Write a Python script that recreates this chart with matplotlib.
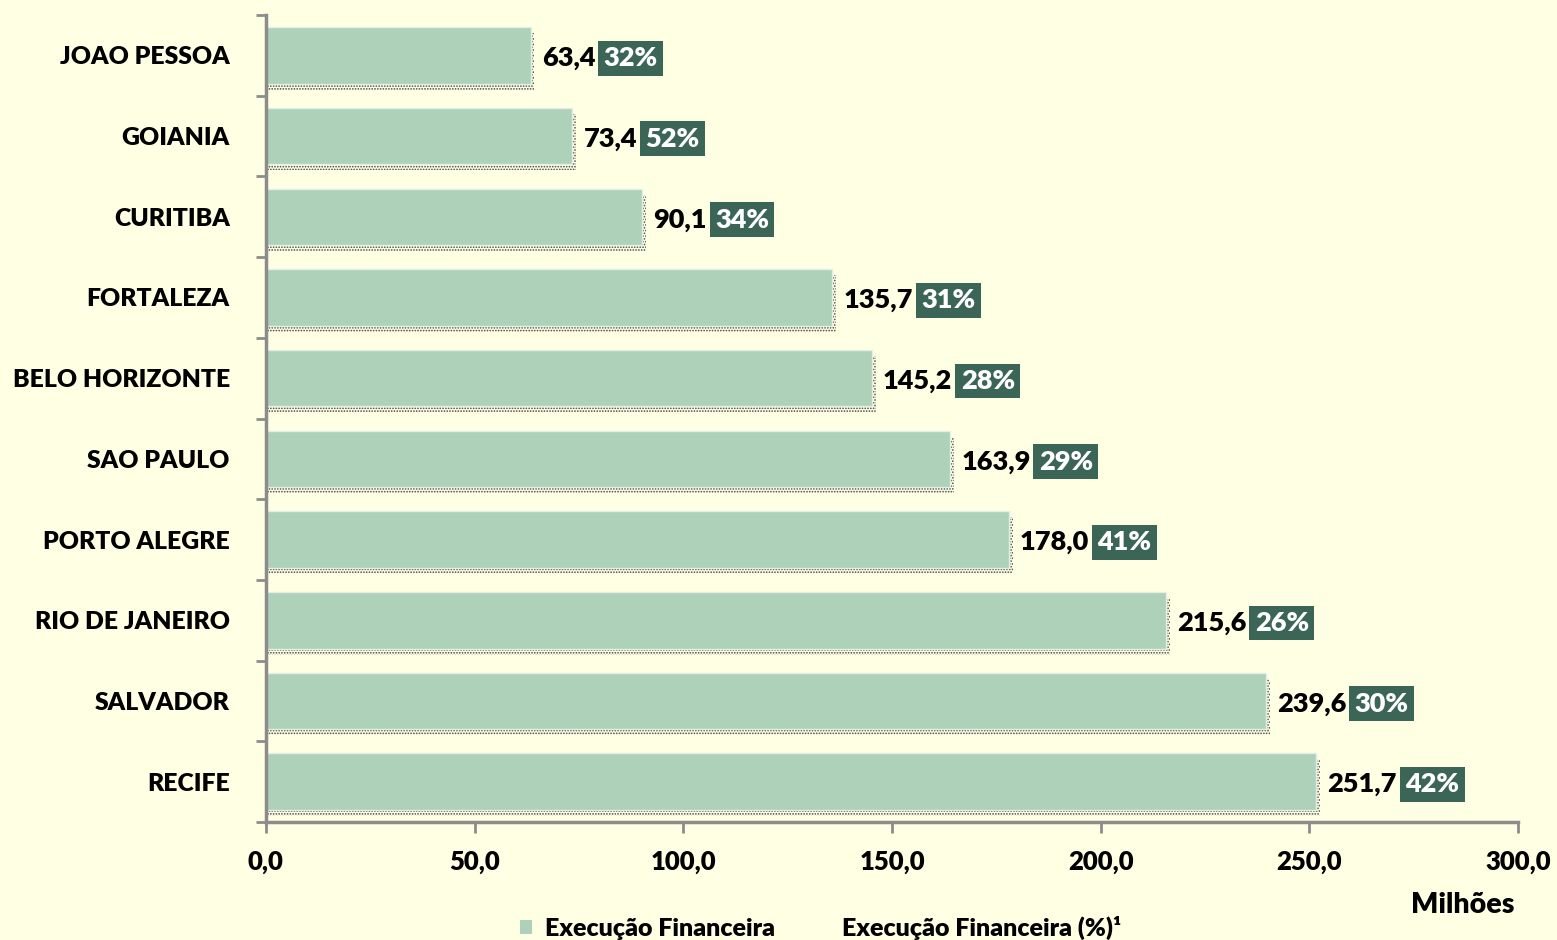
import matplotlib.pyplot as plt
import matplotlib.patches as mpatches
import numpy as np

# --- dados ---
cidades = ["JOAO PESSOA", "GOIANIA", "CURITIBA", "FORTALEZA", "BELO HORIZONTE",
           "SAO PAULO", "PORTO ALEGRE", "RIO DE JANEIRO", "SALVADOR", "RECIFE"]
execucao = [63.4, 73.4, 90.1, 135.7, 145.2, 163.9, 178.0, 215.6, 239.6, 251.7]
percentual = [32, 52, 34, 31, 28, 29, 41, 26, 30, 42]
xticks = [0, 50, 100, 150, 200, 250, 300]

FUNDO = "#FFFFE3"
BARRA = "#AED1B9"
CAIXA = "#3B6657"
EIXO = "#8C8C8C"

plt.rcParams['font.family'] = ['Lato', 'DejaVu Sans']
plt.rcParams['font.weight'] = 'bold'
plt.rcParams['hatch.linewidth'] = 0.8

fig = plt.figure(figsize=(15.57, 9.4), dpi=100, facecolor=FUNDO)
ax = fig.add_axes([0.1708, 0.1255, 0.8042, 0.8585])
ax.set_facecolor(FUNDO)

y = np.arange(len(cidades))

# sombra pontilhada
ax.barh(y + 0.075, [v + 0.9 for v in execucao], height=0.7, left=0,
        facecolor='none', edgecolor='#444444', hatch='......', linewidth=0, zorder=1)
ax.barh(y, execucao, height=0.7, color=BARRA, edgecolor='#E2EFE7', linewidth=1, zorder=2)

for i, (v, p) in enumerate(zip(execucao, percentual)):
    txt = ax.annotate(f"{v:.1f}".replace('.', ','), xy=(v, i), xytext=(8, -2),
                      textcoords='offset points', va='center', ha='left',
                      fontsize=19.5, fontweight='heavy', color='black')
    ax.annotate(f"{p}%", xy=(1, 0.5), xycoords=txt, xytext=(6, 0),
                textcoords='offset points', va='center', ha='left',
                fontsize=19.5, fontweight='heavy', color='white',
                bbox=dict(boxstyle='square,pad=0.2', facecolor=CAIXA, edgecolor='none'))

ax.set_xlim(0, 300)
ax.set_ylim(len(cidades) - 0.5, -0.5)
ax.set_xticks(xticks)
ax.set_xticklabels([f"{t:.1f}".replace('.', ',') for t in xticks], fontsize=18.5, fontweight='heavy')
ax.set_yticks(y)
ax.set_yticklabels(cidades, fontsize=17.8, fontweight='heavy')
ax.set_yticks(np.arange(len(cidades) + 1) - 0.5, minor=True)
ax.tick_params(axis='y', which='major', length=0, pad=26)
ax.tick_params(axis='y', which='minor', length=7, width=2, color=EIXO)
ax.tick_params(axis='x', which='major', length=8, width=2, color=EIXO, pad=12)

for s in ['top', 'right']:
    ax.spines[s].set_visible(False)
for s in ['left', 'bottom']:
    ax.spines[s].set_color(EIXO)
    ax.spines[s].set_linewidth(2.5)

fig.text(0.9395, 0.037, "Milhões", ha='center', va='center', fontsize=20.5, fontweight='heavy')

handles = [mpatches.Patch(facecolor=BARRA, edgecolor='none', label="Execução Financeira"),
           mpatches.Patch(facecolor='none', edgecolor='none', label="Execução Financeira (%)¹")]
fig.legend(handles=handles, loc='center', bbox_to_anchor=(0.527, 0.013), ncol=2, frameon=False,
           handlelength=0.5, handleheight=0.5, handletextpad=0.5, columnspacing=1.7,
           prop={'weight': 'heavy', 'size': 18})

fig.savefig("out.png", dpi=100, facecolor=FUNDO)
